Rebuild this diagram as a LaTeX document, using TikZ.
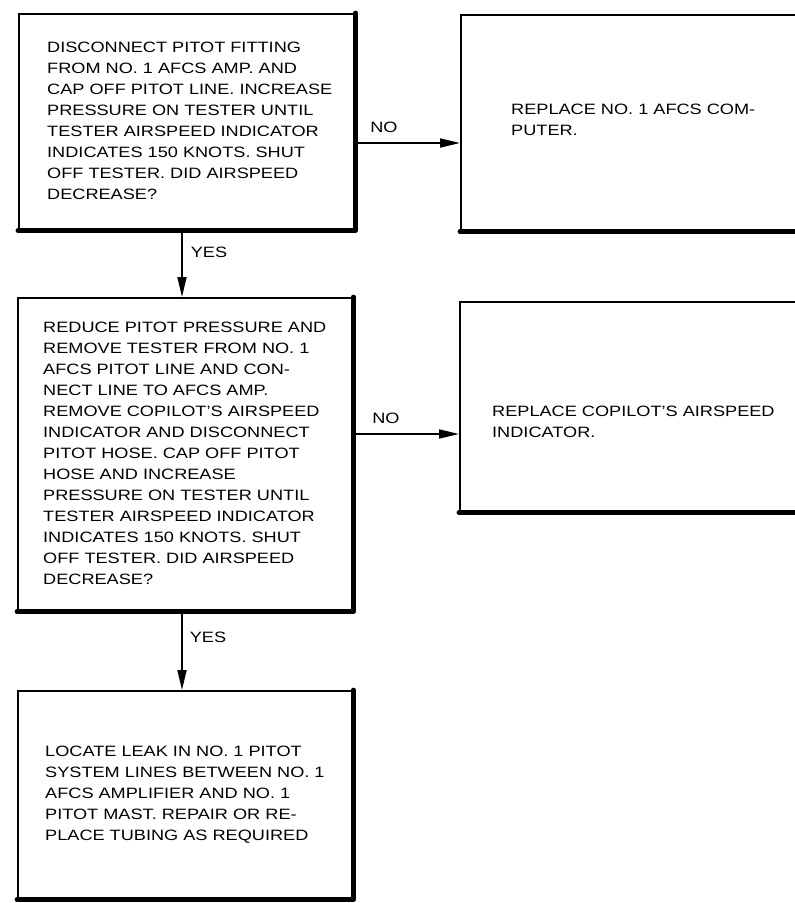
\documentclass[tikz,border=0pt]{standalone}
\usepackage{fontspec}
\setmainfont{Liberation Sans}[FakeStretch=1.21]
\usetikzlibrary{arrows.meta}
\tikzset{
  x=1pt, y=-1pt,
  box/.style={draw, line width=1.6pt, inner sep=0pt, anchor=north west},
  thickedge/.style={line width=4.8pt, line cap=round, line join=round},
  txt/.style={anchor=north west, inner sep=0pt, align=left, font=\fontsize{15}{21}\selectfont},
  lbl/.style={inner sep=0pt, font=\fontsize{15}{18}\selectfont},
  arr/.style={line width=1.8pt, -{Triangle[length=20pt,width=9pt]}, shorten >=0pt}
}
\begin{document}
\begin{tikzpicture}
\useasboundingbox (0,0) rectangle (795,903);
\fill[white] (0,0) rectangle (795,903);
\clip (0,0) rectangle (795,903);
% boxes
\node[box, minimum width=336pt, minimum height=216pt] (b1) at (18,13) {};
\node[box, minimum width=360pt, minimum height=216pt] (b2) at (460,14) {};
\node[box, minimum width=335pt, minimum height=313pt] (b3) at (17,297) {};
\node[box, minimum width=360pt, minimum height=210pt] (b4) at (459,301) {};
\node[box, minimum width=335pt, minimum height=208pt] (b5) at (17,690) {};
% thick right / bottom edges
\draw[thickedge] (b1.north east) -- (b1.south east) -- (b1.south west);
\draw[thickedge] (b2.south east) -- (b2.south west);
\draw[thickedge] (b3.north east) -- (b3.south east) -- (b3.south west);
\draw[thickedge] (b4.south east) -- (b4.south west);
\draw[thickedge] (b5.north east) -- (b5.south east) -- (b5.south west);
% texts
\node[txt] (t1) at (47,42) {DISCONNECT PITOT FITTING\\FROM NO. 1 AFCS AMP. AND\\CAP OFF PITOT LINE. INCREASE\\PRESSURE ON TESTER UNTIL\\TESTER AIRSPEED INDICATOR\\INDICATES 150 KNOTS. SHUT\\OFF TESTER. DID AIRSPEED\\DECREASE?};
\node[txt] (t2) at (511,104) {REPLACE NO. 1 AFCS COM-\\PUTER.};
\node[txt] (t3) at (43,322) {REDUCE PITOT PRESSURE AND\\REMOVE TESTER FROM NO. 1\\AFCS PITOT LINE AND CON-\\NECT LINE TO AFCS AMP.\\REMOVE COPILOT'S AIRSPEED\\INDICATOR AND DISCONNECT\\PITOT HOSE. CAP OFF PITOT\\HOSE AND INCREASE\\PRESSURE ON TESTER UNTIL\\TESTER AIRSPEED INDICATOR\\INDICATES 150 KNOTS. SHUT\\OFF TESTER. DID AIRSPEED\\DECREASE?};
\node[txt] (t4) at (492,406) {REPLACE COPILOT'S AIRSPEED\\INDICATOR.};
\node[txt] (t5) at (45,746) {LOCATE LEAK IN NO. 1 PITOT\\SYSTEM LINES BETWEEN NO. 1\\AFCS AMPLIFIER AND NO. 1\\PITOT MAST. REPAIR OR RE-\\PLACE TUBING AS REQUIRED};
% connector reference coordinates
\coordinate (y1) at (0,143);
\coordinate (y2) at (0,434);
\coordinate (x1) at (182,0);
% connectors
\draw[arr] (b1.east |- y1) -- (b2.west |- y1);
\draw[arr] (b3.east |- y2) -- (b4.west |- y2);
\draw[arr] (b1.south -| x1) -- (b3.north -| x1);
\draw[arr] (b3.south -| x1) -- (b5.north -| x1);
% labels
\node[lbl] (n1) at (384,127) {NO};
\node[lbl] (n2) at (386,418) {NO};
\node[lbl] (y1l) at (209,252) {YES};
\node[lbl] (y2l) at (208,637) {YES};
\end{tikzpicture}
\end{document}
